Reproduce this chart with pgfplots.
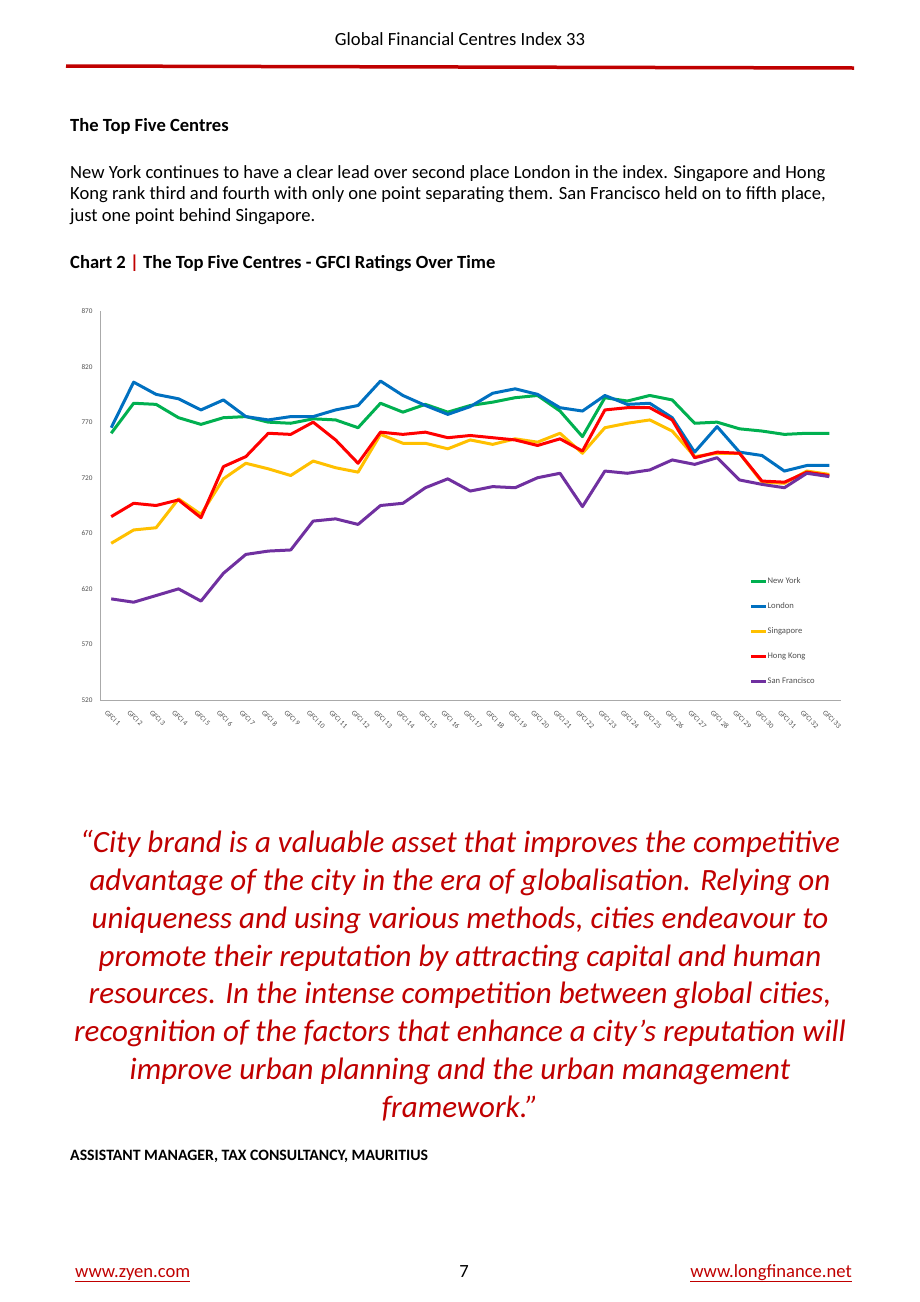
\documentclass[border=0pt]{standalone}
\usepackage{fontspec}
\setmainfont{Carlito}
\usepackage{pgfplots}
\pgfplotsset{compat=1.18}
\usepackage{pgfplotstable}

\definecolor{nyc}{RGB}{0,176,80}
\definecolor{ldn}{RGB}{0,112,192}
\definecolor{sgp}{RGB}{255,192,0}
\definecolor{hkg}{RGB}{255,0,0}
\definecolor{sfo}{RGB}{112,48,160}
\definecolor{brandred}{RGB}{192,0,0}
\definecolor{labelgrey}{RGB}{80,80,80}
\definecolor{axisgrey}{RGB}{170,170,170}

% GFCI ratings of the top five centres, editions 1 to 33
\pgfplotstableread{
gfci ny  ldn sgp hk  sf
1    760 765 661 685 611
2    787 806 673 697 608
3    786 795 675 695 614
4    774 791 701 700 620
5    768 781 687 684 609
6    774 790 719 730 634
7    775 775 733 739 651
8    770 772 728 760 654
9    769 775 722 759 655
10   773 775 735 770 681
11   772 781 729 754 683
12   765 785 725 733 678
13   787 807 759 761 695
14   779 794 751 759 697
15   786 785 751 761 711
16   779 777 746 756 719
17   785 784 754 758 708
18   788 796 750 756 712
19   792 800 755 754 711
20   794 795 752 749 720
21   780 783 760 755 724
22   757 780 742 744 694
23   792 794 765 781 726
24   789 786 769 783 724
25   794 787 772 783 727
26   790 774 762 772 736
27   769 743 739 738 732
28   770 766 742 743 738
29   764 743 742 742 718
30   762 740 716 717 714
31   759 726 715 716 711
32   760 731 726 725 724
33   760 731 723 722 721
}\ratings

\newcommand{\bodyfont}{\fontsize{18.6}{21.5}\selectfont}

\begin{document}
\begin{tikzpicture}
\fill[white] (0pt,0pt) rectangle (920pt,-1302pt);
\useasboundingbox (0pt,0pt) rectangle (920pt,-1302pt);

% running header
\node[anchor=base, inner sep=0pt, font=\bodyfont] at (460pt,-45pt) {Global Financial Centres Index 33};
\draw[brandred, line width=3.5pt] (66pt,-66pt) -- (854pt,-68pt);

% section text
\node[anchor=base west, inner sep=0pt, font=\bodyfont\bfseries] at (70pt,-131pt) {The Top Five Centres};
\node[anchor=base west, inner sep=0pt, font=\bodyfont] at (70pt,-178pt) {New York continues to have a clear lead over second place London in the index. Singapore and Hong};
\node[anchor=base west, inner sep=0pt, font=\bodyfont] at (70pt,-199.5pt) {Kong rank third and fourth with only one point separating them. San Francisco held on to fifth place,};
\node[anchor=base west, inner sep=0pt, font=\bodyfont] at (70pt,-221pt) {just one point behind Singapore.};
\node[anchor=base west, inner sep=0pt, font=\bodyfont\bfseries] at (70pt,-268pt) {Chart 2 \textcolor{brandred}{|} The Top Five Centres - GFCI Ratings Over Time};

\begin{axis}[
  at={(100pt,-700pt)}, anchor=south west,
  scale only axis, width=740.5pt, height=389pt,
  xmin=0.5, xmax=33.5, ymin=520, ymax=870,
  axis x line*=bottom, axis y line*=left,
  axis line style={axisgrey, line width=0.8pt},
  major tick length=0pt,
  ytick={520,570,...,870},
  xtick={1,...,33},
  xticklabels={GFCI 1,GFCI 2,GFCI 3,GFCI 4,GFCI 5,GFCI 6,GFCI 7,GFCI 8,GFCI 9,GFCI 10,GFCI 11,GFCI 12,GFCI 13,GFCI 14,GFCI 15,GFCI 16,GFCI 17,GFCI 18,GFCI 19,GFCI 20,GFCI 21,GFCI 22,GFCI 23,GFCI 24,GFCI 25,GFCI 26,GFCI 27,GFCI 28,GFCI 29,GFCI 30,GFCI 31,GFCI 32,GFCI 33},
  /pgf/number format/assume math mode=true,
  yticklabel style={font=\fontsize{7.2}{8}\selectfont, text=labelgrey, xshift=-4pt},
  xticklabel style={font=\fontsize{7.2}{8}\selectfont, text=labelgrey, rotate=-45, anchor=north west, xshift=1pt, yshift=-6pt},
  legend style={draw=none, fill=none, at={(0.877,0.313)}, anchor=north west,
    font=\fontsize{8.6}{9}\selectfont, text=labelgrey, row sep=18pt, inner sep=0pt,
    nodes={inner sep=0pt, text height=5.5pt, text depth=1.5pt}},
  legend cell align=left,
  legend image code/.code={\draw[#1, line width=3pt] (0pt,0pt) -- (15pt,0pt);},
  every axis plot/.append style={line width=3pt, line join=round},
]
\addplot[nyc]  table[x=gfci, y=ny]  {\ratings};
\addplot[ldn]  table[x=gfci, y=ldn] {\ratings};
\addplot[sgp]  table[x=gfci, y=sgp] {\ratings};
\addplot[hkg]  table[x=gfci, y=hk]  {\ratings};
\addplot[sfo]  table[x=gfci, y=sf]  {\ratings};
\legend{New York, London, Singapore, Hong Kong, San Francisco}
\end{axis}

% quotation
\begin{scope}[every node/.style={anchor=base, inner sep=0pt, text=brandred, font=\fontsize{31}{37.7}\selectfont\itshape}]
\node at (460pt,-852.7pt) {“City brand is a valuable asset that improves the competitive};
\node at (460pt,-890.5pt) {advantage of the city in the era of globalisation. Relying on};
\node at (460pt,-928.3pt) {uniqueness and using various methods, cities endeavour to};
\node at (460pt,-966.1pt) {promote their reputation by attracting capital and human};
\node at (460pt,-1003.9pt) {resources. In the intense competition between global cities,};
\node at (460pt,-1041.7pt) {recognition of the factors that enhance a city’s reputation will};
\node at (460pt,-1079.5pt) {improve urban planning and the urban management};
\node at (460pt,-1117.3pt) {framework.”};
\end{scope}
\node[anchor=base west, inner sep=0pt, font=\fontsize{15.8}{18}\selectfont\bfseries] at (70pt,-1160.5pt) {ASSISTANT MANAGER, TAX CONSULTANCY, MAURITIUS};

% footer
\node[anchor=base west, inner sep=0pt, font=\bodyfont, text=brandred] at (75pt,-1277pt) {\underline{www.zyen.com}};
\node[anchor=base, inner sep=0pt, font=\bodyfont] at (464pt,-1277pt) {7};
\node[anchor=base east, inner sep=0pt, font=\bodyfont, text=brandred] at (852pt,-1277pt) {\underline{www.longfinance.net}};
\end{tikzpicture}
\end{document}
